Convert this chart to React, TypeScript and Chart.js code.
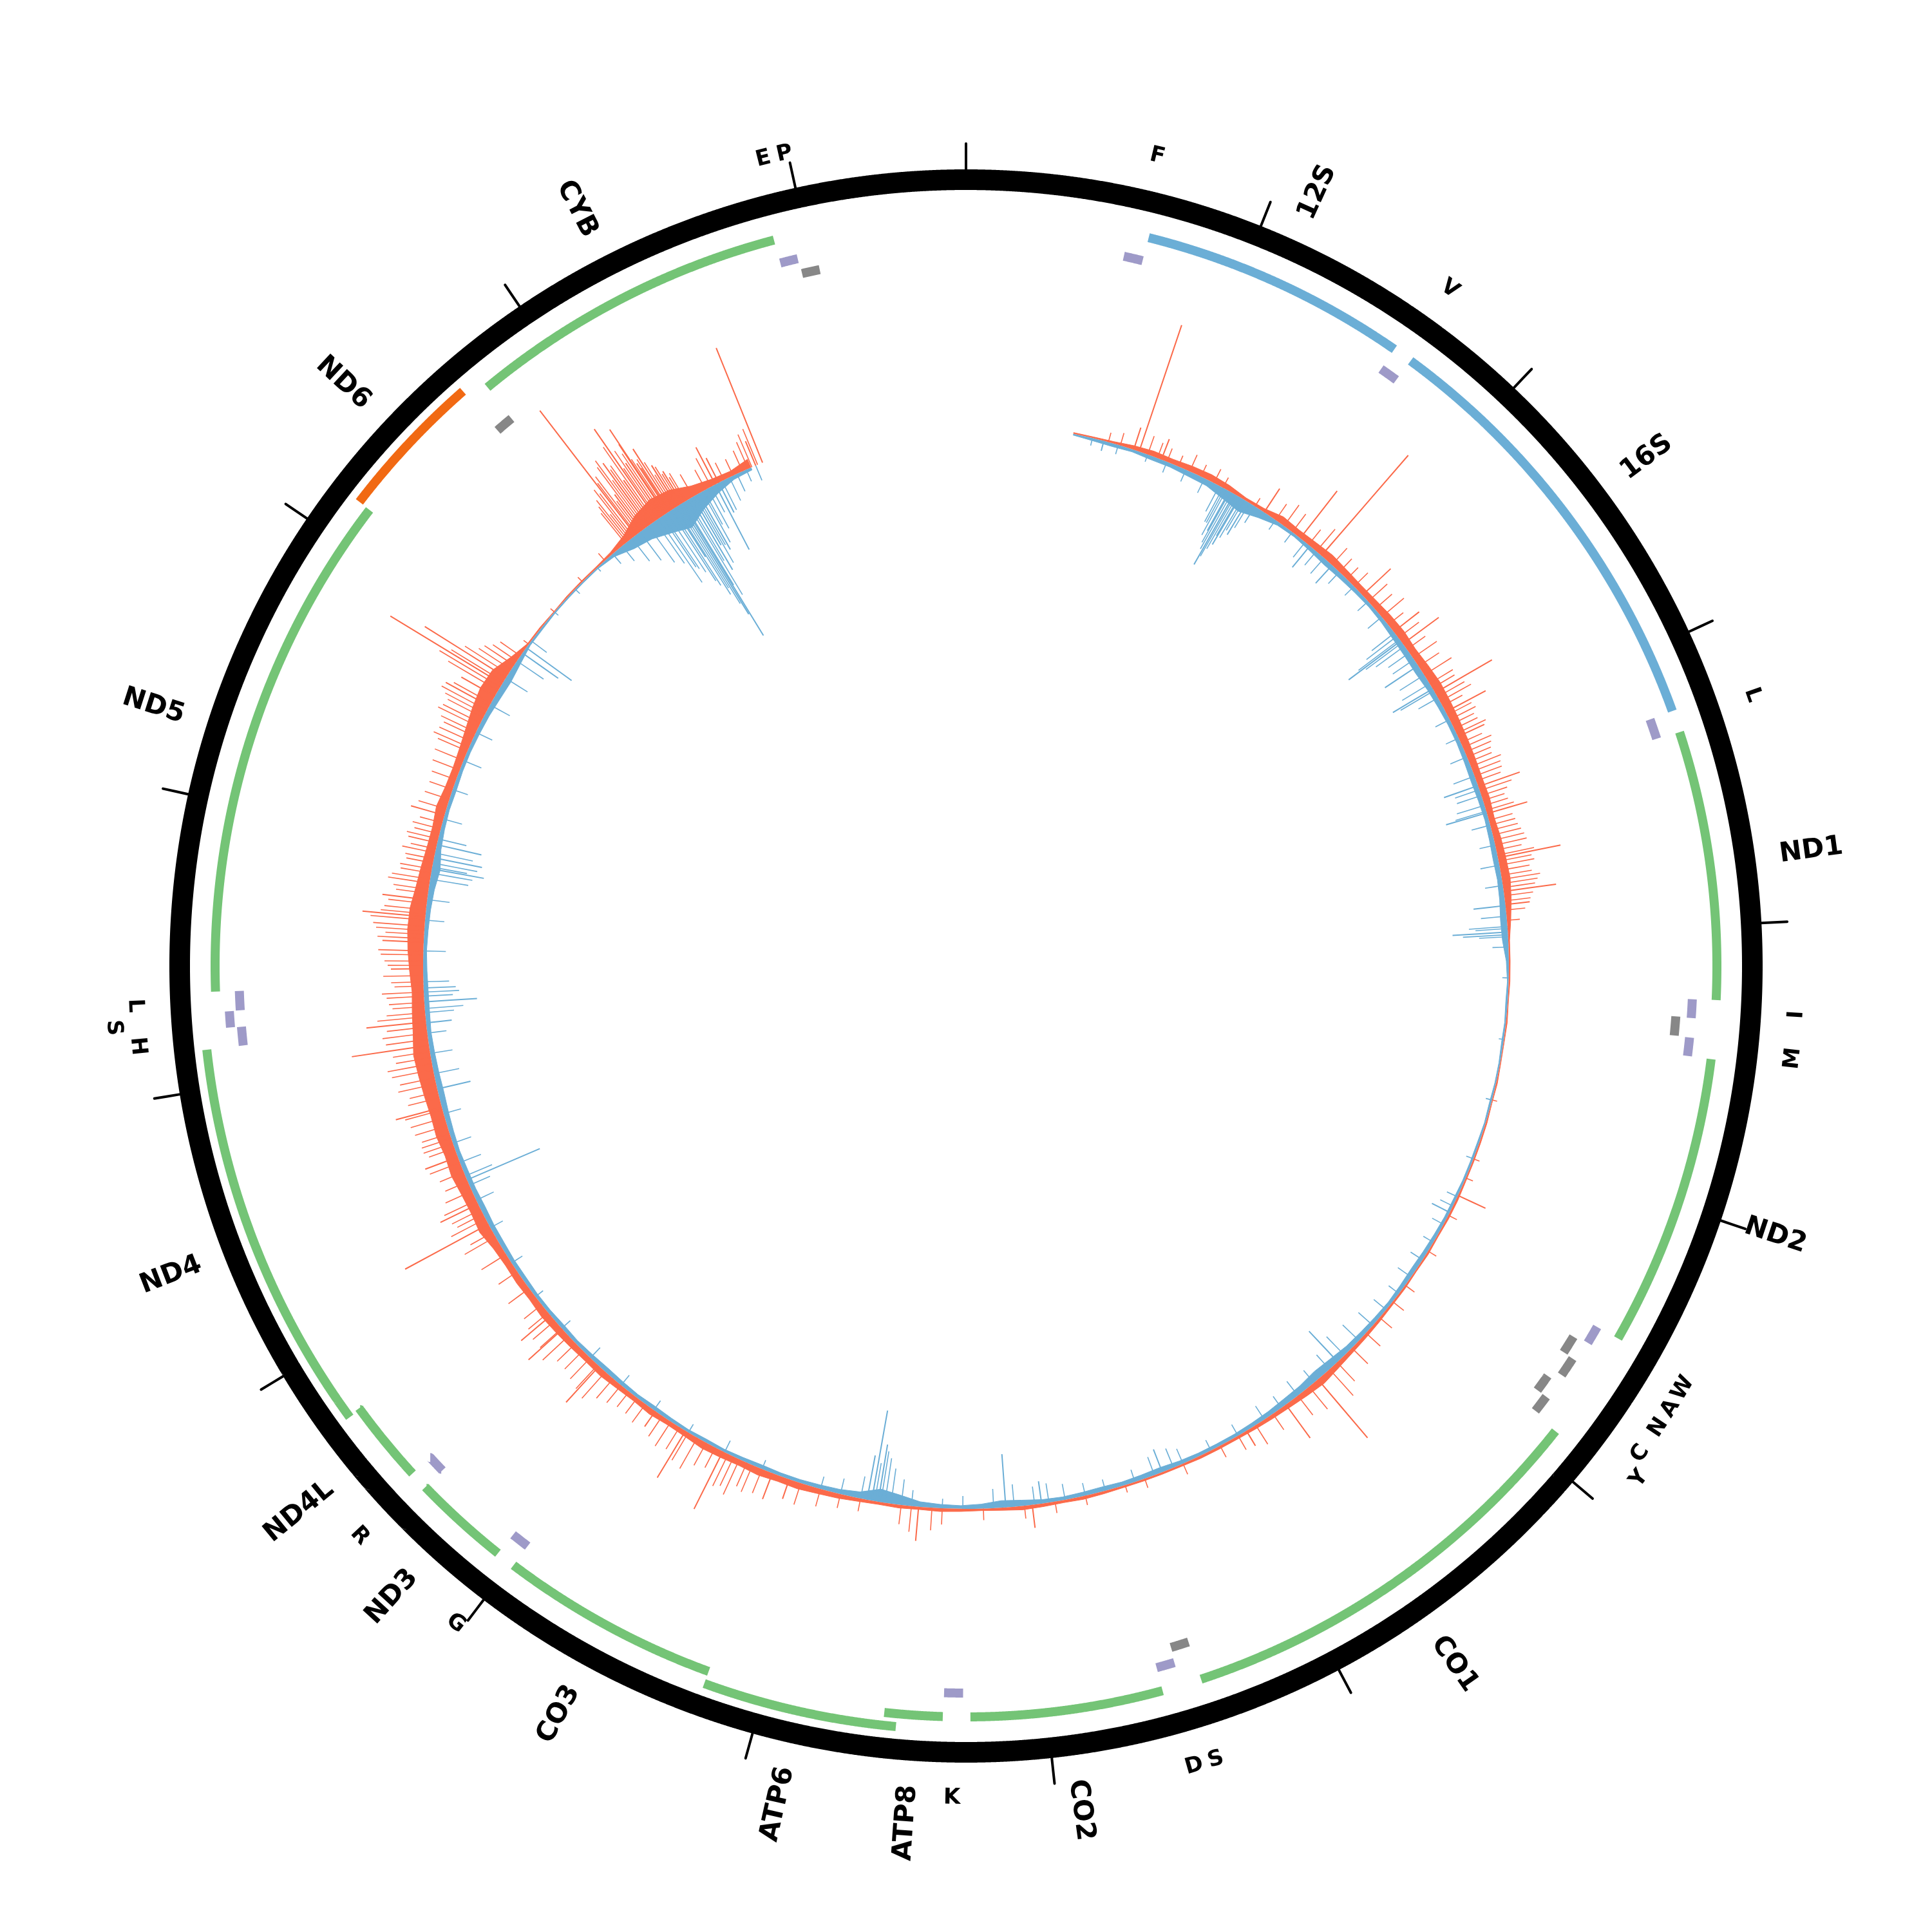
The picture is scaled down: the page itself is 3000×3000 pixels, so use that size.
import React, { useEffect, useRef } from 'react';
import { Chart, registerables } from 'chart.js';

Chart.register(...registerables);

// ---------------- data ----------------
const GENOME_LENGTH = 16569;
const TICK_POSITIONS = [0, 1000, 2000, 3000, 4000, 5000, 6000, 7000, 8000, 9000, 10000, 11000, 12000, 13000, 14000, 15000, 16000];

const GENE_NAMES = ['12S', '16S', 'ND1', 'ND2', 'CO1', 'CO2', 'ATP8', 'ATP6', 'CO3', 'ND3', 'ND4L', 'ND4', 'ND5', 'ND6', 'CYB'];
const GENE_START = [648, 1671, 3307, 4470, 5904, 7586, 8366, 8527, 9207, 10059, 10470, 10760, 12337, 14149, 14747];
const GENE_END = [1601, 3229, 4262, 5511, 7445, 8269, 8572, 9207, 9990, 10404, 10766, 12137, 14148, 14673, 15887];
const GENE_KIND = ['rRNA', 'rRNA', 'cds', 'cds', 'cds', 'cds', 'cds', 'cds', 'cds', 'cds', 'cds', 'cds', 'cds', 'cdsMinus', 'cds'];
const GENE_LEVEL = [0, 0, 0, 0, 0, 0, 0, 1, 0, 0, 0, 1, 0, 1, 0];

const TRNA_LABELS = ['F', 'V', 'L', 'I', '', 'M', 'W', 'A', 'N', 'C', 'Y', 'S', 'D', 'K', 'G', 'R', 'H', 'S', 'L', '', 'E', 'P'];
const TRNA_START = [577, 1602, 3230, 4263, 4329, 4402, 5512, 5587, 5657, 5761, 5826, 7446, 7518, 8295, 9991, 10405, 12138, 12207, 12266, 14674, 15888, 15956];
const TRNA_END = [647, 1670, 3304, 4331, 4400, 4469, 5579, 5655, 5729, 5826, 5891, 7514, 7585, 8364, 10058, 10469, 12206, 12265, 12336, 14742, 15953, 16023];
const TRNA_STRAND = [1, 1, 1, 1, -1, 1, 1, -1, -1, -1, -1, -1, 1, 1, 1, 1, 1, 1, 1, -1, 1, -1];
const TRNA_LEVEL = [0, 0, 0, 0, 0, 0, 0, 0, 1, 0, 1, 0, 0, 0, 0, 0, 0, 1, 0, 0, 0, 0];
const TRNA_LABEL_LIFT = [0, 0, 0, 0, 0, 0, 0, 0, 0, 0, 22, 0, 0, 0, 0, 0, 0, 35, 0, 0, 0, 0];

// coverage core: genome split into 166 equal bins; values from bin 5 onwards
const COV_BINS = 166;
const COV_FIRST_BIN = 5;
const FWD_COV = [2,
  2, 3, 6, 8, 7, 9, 10, 8, 4, 5,
  11, 9, 10, 12, 10, 9, 10, 12, 13, 11, 13, 15, 14, 13, 12, 11, 10, 11, 9, 11, 12, 13, 10, 6,
  2, 2,
  2, 1, 2, 1, 1, 2, 1, 2, 2, 2, 2, 3, 3,
  2, 3, 2, 3, 3, 4, 5, 6, 8, 11, 9, 7, 6, 5, 4, 4, 4, 3, 3, 3, 3, 4, 5, 4,
  5, 6, 4, 3, 4, 5, 4, 5, 4, 5, 7, 8, 10, 9, 11, 9, 10, 11, 8, 7,
  9, 7, 8, 10, 9, 10, 11, 12, 10, 11, 10, 12, 18, 16, 17, 20, 18, 21, 20, 22,
  24, 26, 22, 20, 18, 21, 24, 26, 25, 20, 17, 14, 13, 16, 12, 11, 13, 17, 22, 26,
  24, 11, 2, 2, 1, 2, 2, 2, 4, 11, 25, 32, 28, 16, 10, 8, 14];
const REV_COV = [2,
  4, 5, 4, 6, 6, 8, 9, 15, 20, 12,
  5, 4, 6, 8, 7, 6, 5, 6, 8, 9, 10, 8, 7, 6, 6, 7, 8, 7, 6, 7, 8, 7, 8, 10,
  9, 4,
  2, 3, 2, 3, 2, 2, 3, 2, 3, 3, 3, 4, 4,
  5, 6, 7, 6, 5, 6, 7, 8, 11, 13, 10, 9, 7, 6, 5, 5, 5, 6, 8, 7, 6, 7, 6, 5,
  6, 9, 11, 7, 5, 6, 8, 15, 20, 10, 7, 6, 5, 5, 6, 5, 4, 5, 4, 5,
  6, 5, 6, 7, 6, 5, 6, 5, 5, 6, 6, 7, 7, 8, 7, 7, 6, 7, 8, 9,
  8, 7, 6, 7, 7, 6, 5, 6, 7, 9, 13, 8, 6, 5, 6, 5, 5, 6, 7, 9,
  10, 7, 3, 3, 2, 2, 2, 2, 5, 15, 20, 30, 40, 25, 14, 6, 4];

// tall isolated spikes (position bp, height)
const FWD_SPIKE_POS = [828, 856, 971, 1533, 1749, 1882, 2159, 2393, 2467, 2752, 2858, 2992, 3254, 3392, 3613, 3779, 3843, 5293, 6425, 6623, 6853, 7962, 8515, 9159, 9246, 9509, 9716, 9891, 10241, 10494, 10581, 11120, 11230, 11479, 11732, 12040, 12155, 12413, 12542, 12666, 12749, 13168, 13743, 13798, 13867, 13904, 14843, 14880, 14920, 14950, 14972, 15000, 15023, 15040, 15060, 15090, 15119, 15303, 15322, 15520, 15556];
const FWD_SPIKE_H = [36, 207, 34, 44, 93, 206, 60, 50, 69, 102, 70, 45, 68, 65, 99, 82, 38, 47, 119, 64, 27, 36, 53, 32, 43, 100, 85, 29, 76, 71, 60, 147, 65, 54, 74, 121, 93, 50, 64, 98, 70, 54, 77, 60, 203, 149, 244, 70, 120, 80, 171, 100, 157, 90, 112, 75, 58, 65, 43, 41, 192];
const REV_SPIKE_POS = [677, 1335, 1362, 1395, 1436, 1809, 1952, 2449, 2596, 2729, 3249, 3388, 3848, 3977, 5385, 6296, 7309, 7916, 8091, 8713, 8745, 8768, 11359, 11824, 12150, 12252, 12901, 12956, 13021, 14047, 14079, 15074, 15110, 15119, 15165, 15179, 15211, 15303, 15322];
const REV_SPIKE_H = [16, 70, 126, 85, 60, 43, 38, 101, 62, 72, 56, 66, 50, 86, 31, 65, 38, 35, 83, 90, 142, 70, 123, 53, 40, 82, 82, 76, 71, 68, 87, 90, 201, 241, 129, 87, 100, 114, 52];

// shorter hairs (position bp, height)
const FWD_HAIR_POS = [700, 760, 900, 950, 1000, 1060, 1120, 1180, 1250, 1300, 1480, 1600, 1650, 1700, 1800, 1850, 1950, 2000, 2050, 2100, 2200, 2250, 2300, 2350, 2430, 2500, 2550, 2600, 2650, 2700, 2800, 2900, 2950, 3050, 3100, 3150, 3200, 3300, 3350, 3450, 3500, 3550, 3650, 3700, 3720, 3800, 3870, 3920, 4800, 5100, 5200, 5400, 5600, 5800, 5900, 6000, 6100, 6200, 6300, 6350, 6480, 6550, 6700, 6800, 6900, 7000, 7200, 7400, 7500, 7700, 7850, 8000, 8200, 8400, 8450, 8550, 8600, 8800, 8900, 9000, 9100, 9300, 9350, 9420, 9450, 9600, 9650, 9800, 9950, 10050, 10150, 10200, 10300, 10400, 10450, 10550, 10650, 10750, 10850, 10950, 11050, 11150, 11200, 11300, 11400, 11550, 11600, 11680, 11780, 11850, 11920, 11980, 12100, 12200, 12250, 12300, 12350, 12450, 12500, 12600, 12620, 12700, 12800, 12850, 12900, 12950, 13000, 13050, 13100, 13250, 13300, 13400, 13500, 13550, 13600, 13650, 13700, 13830, 13950, 14000, 14100, 14300, 14500, 14650, 14780, 14800, 14820, 14860, 14900, 14930, 14960, 14990, 15010, 15030, 15050, 15070, 15100, 15140, 15180, 15250, 15280, 15350, 15400, 15450, 15480, 15500, 15530];
const FWD_HAIR_H = [15, 20, 30, 25, 22, 18, 28, 20, 24, 18, 15, 30, 40, 35, 30, 45, 35, 28, 25, 30, 40, 35, 45, 30, 40, 35, 45, 38, 50, 42, 55, 45, 40, 48, 40, 50, 45, 42, 38, 40, 45, 50, 55, 48, 60, 45, 30, 20, 8, 10, 12, 15, 15, 18, 22, 25, 30, 35, 40, 55, 45, 38, 30, 35, 25, 20, 18, 15, 12, 15, 18, 20, 18, 25, 35, 40, 30, 20, 22, 28, 35, 40, 45, 60, 50, 40, 55, 45, 35, 30, 40, 55, 45, 40, 55, 45, 35, 40, 35, 45, 55, 60, 50, 45, 40, 48, 45, 55, 50, 60, 65, 55, 70, 60, 55, 65, 50, 60, 70, 75, 80, 65, 55, 60, 50, 45, 40, 50, 45, 40, 38, 45, 50, 55, 60, 65, 70, 90, 60, 45, 10, 8, 10, 15, 60, 80, 95, 110, 130, 105, 140, 125, 115, 100, 95, 85, 70, 50, 40, 35, 50, 30, 28, 35, 45, 55, 60];
const REV_HAIR_POS = [620, 750, 900, 1000, 1100, 1200, 1280, 1300, 1320, 1350, 1380, 1410, 1450, 1480, 1600, 1700, 1780, 1850, 1900, 2000, 2100, 2200, 2300, 2400, 2420, 2480, 2520, 2650, 2700, 2780, 2900, 3000, 3100, 3200, 3300, 3350, 3450, 3550, 3650, 3750, 3900, 3950, 4000, 4050, 4200, 4500, 4800, 5100, 5300, 5350, 5450, 5550, 5650, 5750, 5850, 5950, 6050, 6150, 6250, 6350, 6450, 6550, 6650, 6750, 6900, 7050, 7200, 7250, 7350, 7450, 7600, 7700, 7800, 7880, 7950, 8050, 8150, 8300, 8400, 8550, 8600, 8650, 8680, 8700, 8730, 8800, 8900, 9000, 9300, 9500, 9700, 9900, 10100, 10300, 10500, 10700, 10900, 11100, 11250, 11450, 11550, 11700, 11900, 12000, 12100, 12200, 12300, 12350, 12500, 12650, 12750, 12850, 12930, 13050, 13150, 13300, 13450, 13600, 13750, 13900, 14000, 14120, 14300, 14450, 14600, 14700, 14760, 14820, 14870, 14920, 14960, 15000, 15030, 15050, 15090, 15140, 15190, 15230, 15260, 15340, 15380, 15420, 15470, 15520];
const REV_HAIR_H = [12, 15, 12, 18, 20, 25, 45, 60, 80, 100, 95, 70, 45, 30, 18, 20, 30, 28, 32, 25, 20, 22, 28, 45, 60, 55, 40, 45, 50, 35, 25, 22, 28, 35, 40, 45, 30, 25, 30, 28, 40, 60, 45, 25, 10, 8, 10, 12, 18, 22, 20, 18, 22, 25, 20, 25, 30, 35, 40, 30, 25, 28, 22, 25, 20, 18, 25, 32, 30, 20, 18, 20, 25, 30, 28, 35, 30, 20, 15, 25, 40, 55, 70, 80, 60, 35, 25, 20, 15, 20, 15, 18, 20, 22, 18, 15, 20, 22, 30, 35, 30, 28, 40, 35, 30, 45, 55, 40, 35, 30, 35, 60, 70, 45, 30, 25, 30, 28, 35, 40, 50, 30, 8, 10, 8, 20, 30, 45, 55, 70, 80, 95, 110, 130, 150, 170, 120, 90, 70, 50, 40, 30, 20, 25];

// extra hairs in the densest stretches (position bp, height)
const FWD_DENSE_POS = [2725, 2775, 2825, 2875, 2925, 2975, 3025, 3075, 3125, 3175, 3225, 3275, 3325, 3375, 3425, 3475, 3525, 3575, 3600, 3630, 3675, 3740, 3760, 3825, 9380, 9480, 9550, 9700, 9750, 9850, 10000, 10100, 10250, 10350, 10500, 10600, 11075, 11175, 11250, 11350, 11450, 11525, 11575, 11640, 11720, 11810, 11880, 11950, 12010, 12070, 12130, 12180, 12230, 12280, 12330, 12380, 12430, 12480, 12560, 12580, 12650, 12680, 12730, 12780, 12830, 12880, 12930, 12980, 13030, 13075, 13130, 13200, 13350, 13450, 13520, 13580, 13630, 13680, 13720, 13760, 13850, 13880, 13925, 13975, 14030, 14790, 14810, 14830, 14850, 14870, 14890, 14910, 14940, 14980, 15020, 15045, 15080, 15110, 15130];
const FWD_DENSE_H = [40, 48, 35, 42, 38, 50, 36, 44, 38, 46, 40, 52, 35, 45, 38, 42, 48, 40, 58, 52, 46, 55, 50, 40, 40, 55, 35, 50, 40, 38, 30, 35, 50, 40, 45, 40, 40, 45, 55, 38, 50, 42, 48, 52, 60, 45, 55, 70, 58, 66, 62, 75, 50, 58, 45, 62, 55, 66, 72, 60, 85, 70, 60, 50, 65, 48, 42, 52, 46, 40, 36, 45, 40, 48, 60, 52, 70, 62, 80, 66, 110, 95, 80, 55, 38, 70, 50, 85, 100, 60, 120, 90, 110, 95, 130, 80, 60, 55, 45];
const REV_DENSE_POS = [1310, 1340, 1370, 1390, 1420, 2440, 2460, 2560, 2740, 3270, 3380, 3960, 3990, 11330, 11380, 12220, 12280, 12320, 12880, 12910, 12980, 14980, 15010, 15060, 15080, 15100, 15125, 15150, 15200, 15240, 15280];
const REV_DENSE_H = [60, 90, 110, 70, 55, 80, 70, 40, 60, 40, 50, 50, 70, 35, 45, 60, 45, 50, 65, 55, 60, 120, 100, 140, 160, 180, 150, 110, 90, 60, 45];

// ---------------- styling ----------------
const SIZE = 3000;
const HALF = 1500;
const R_RING = 1221;
const RING_W = 32;
const R_TICK_IN = 1236;
const R_TICK_OUT = 1277;
const R_GENE = 1166;
const GENE_STEP = 20;
const GENE_W = 14;
const R_TRNA_PLUS = 1129;
const R_TRNA_MINUS = 1105;
const TRNA_STEP = 17;
const TRNA_W = 14;
const R_COV = 843;
const R_GENE_LABEL = 1275;
const R_TRNA_LABEL = 1292;
const GENE_FONT = 'bold 42px "DejaVu Sans"';
const TRNA_FONT = 'bold 34px "DejaVu Sans"';

const COLORS: Record<string, string> = {
  rRNA: '#6baed6',
  cds: '#74c476',
  cdsMinus: '#f16913',
  trnaPlus: '#9e9ac8',
  trnaMinus: '#878787',
  fwd: '#fb6a4a',
  rev: '#6baed6',
};

type P = { x: number; y: number };
const GAP: P = { x: NaN, y: NaN };

function polar(pos: number, r: number): P {
  const a = (pos / GENOME_LENGTH) * 2 * Math.PI;
  return { x: r * Math.sin(a), y: r * Math.cos(a) };
}

function arcPts(start: number, end: number, r: number): P[] {
  const n = Math.max(2, Math.ceil((end - start) / 6));
  const pts: P[] = [];
  for (let i = 0; i <= n; i++) pts.push(polar(start + ((end - start) * i) / n, r));
  return pts;
}

function lineDs(data: P[], color: string, width: number, cap = 'butt') {
  return {
    data,
    showLine: true,
    borderColor: color,
    backgroundColor: color,
    borderWidth: width,
    borderCapStyle: cap,
    borderJoinStyle: 'round',
    pointRadius: 0,
    pointHoverRadius: 0,
    fill: false,
    // a tiny tension avoids the x-monotonic fast path, which breaks circular lines
    tension: 0.0001,
    spanGaps: false,
  };
}

function spikes(pos: number[], h: number[], sign: number): P[] {
  const pts: P[] = [];
  pos.forEach((p, i) => {
    pts.push(polar(p, R_COV), polar(p, R_COV + sign * h[i]), GAP);
  });
  return pts;
}

function buildMainConfig() {
  const datasets: any[] = [];

  // coverage spikes and hairs
  datasets.push(lineDs(spikes(FWD_SPIKE_POS, FWD_SPIKE_H, 1), COLORS.fwd, 2));
  datasets.push(lineDs(spikes(REV_SPIKE_POS, REV_SPIKE_H, -1), COLORS.rev, 2));
  datasets.push(lineDs(spikes(FWD_HAIR_POS, FWD_HAIR_H, 1), COLORS.fwd, 1.6));
  datasets.push(lineDs(spikes(REV_HAIR_POS, REV_HAIR_H, -1), COLORS.rev, 1.6));
  datasets.push(lineDs(spikes(FWD_DENSE_POS, FWD_DENSE_H, 1), COLORS.fwd, 1.6));
  datasets.push(lineDs(spikes(REV_DENSE_POS, REV_DENSE_H, -1), COLORS.rev, 1.6));

  // genes
  ['rRNA', 'cds', 'cdsMinus'].forEach((kind) => {
    const pts: P[] = [];
    GENE_NAMES.forEach((_, i) => {
      if (GENE_KIND[i] !== kind) return;
      pts.push(...arcPts(GENE_START[i], GENE_END[i], R_GENE + GENE_LEVEL[i] * GENE_STEP), GAP);
    });
    datasets.push(lineDs(pts, COLORS[kind], GENE_W));
  });

  // tRNAs
  [1, -1].forEach((strand) => {
    const pts: P[] = [];
    TRNA_START.forEach((s, i) => {
      if (TRNA_STRAND[i] !== strand) return;
      const base = strand === 1 ? R_TRNA_PLUS : R_TRNA_MINUS;
      pts.push(...arcPts(s, TRNA_END[i], base + TRNA_LEVEL[i] * TRNA_STEP), GAP);
    });
    datasets.push(lineDs(pts, strand === 1 ? COLORS.trnaPlus : COLORS.trnaMinus, TRNA_W));
  });

  // ticks
  const ticks: P[] = [];
  TICK_POSITIONS.forEach((t) => ticks.push(polar(t, R_TICK_IN), polar(t, R_TICK_OUT), GAP));
  datasets.push(lineDs(ticks, '#000000', 4, 'round'));

  // genome ring
  datasets.push(lineDs(arcPts(-40, GENOME_LENGTH + 40, R_RING), '#000000', RING_W));

  const labelPlugin = {
    id: 'mitoLabels',
    afterDatasetsDraw(chart: any) {
      const ctx = chart.ctx as CanvasRenderingContext2D;
      const xs = chart.scales.x;
      const ys = chart.scales.y;
      const px = (p: P) => ({ x: xs.getPixelForValue(p.x), y: ys.getPixelForValue(p.y) });
      ctx.save();
      ctx.fillStyle = '#000000';
      ctx.textBaseline = 'middle';
      ctx.font = GENE_FONT;
      GENE_NAMES.forEach((name, i) => {
        const mid = (GENE_START[i] + GENE_END[i]) / 2;
        const deg = (mid / GENOME_LENGTH) * 360;
        const p = px(polar(mid, R_GENE_LABEL));
        ctx.save();
        ctx.translate(p.x, p.y);
        if (deg < 180) {
          ctx.rotate(((deg - 90) * Math.PI) / 180);
          ctx.textAlign = 'left';
        } else {
          ctx.rotate(((deg + 90) * Math.PI) / 180);
          ctx.textAlign = 'right';
        }
        ctx.fillText(name, 0, 0);
        ctx.restore();
      });
      ctx.font = TRNA_FONT;
      ctx.textAlign = 'center';
      TRNA_LABELS.forEach((lab, i) => {
        if (!lab) return;
        const mid = (TRNA_START[i] + TRNA_END[i]) / 2;
        const deg = (mid / GENOME_LENGTH) * 360;
        const p = px(polar(mid, R_TRNA_LABEL + TRNA_LABEL_LIFT[i]));
        ctx.save();
        ctx.translate(p.x, p.y);
        const rot = deg > 90 && deg < 270 ? deg - 180 : deg;
        ctx.rotate((rot * Math.PI) / 180);
        ctx.fillText(lab, 0, 0);
        ctx.restore();
      });
      ctx.restore();
    },
  };

  return {
    type: 'scatter',
    data: { datasets },
    options: {
      animation: false,
      responsive: false,
      devicePixelRatio: 1,
      events: [],
      layout: { padding: 0 },
      plugins: { legend: { display: false }, tooltip: { enabled: false } },
      scales: {
        x: { type: 'linear', min: -HALF, max: HALF, display: false },
        y: { type: 'linear', min: -HALF, max: HALF, display: false },
      },
    },
    plugins: [labelPlugin],
  };
}

function buildCoverageConfig() {
  const labels = Array.from({ length: COV_BINS }, (_, j) => String(j));
  const fwdData: (number | null)[] = labels.map(() => null);
  const revData: (number | null)[] = labels.map(() => null);
  FWD_COV.forEach((v, k) => { fwdData[COV_FIRST_BIN + k] = R_COV + v; });
  REV_COV.forEach((v, k) => { revData[COV_FIRST_BIN + k] = R_COV - v; });
  const ds = (data: (number | null)[], color: string) => ({
    data,
    fill: { value: R_COV },
    backgroundColor: color,
    borderColor: color,
    borderWidth: 1,
    pointRadius: 0,
    pointHoverRadius: 0,
    spanGaps: false,
    tension: 0,
  });
  return {
    type: 'radar',
    data: { labels, datasets: [ds(fwdData, COLORS.fwd), ds(revData, COLORS.rev)] },
    options: {
      animation: false,
      responsive: false,
      devicePixelRatio: 1,
      events: [],
      layout: { padding: 0 },
      plugins: { legend: { display: false }, tooltip: { enabled: false } },
      scales: {
        r: {
          min: 0,
          max: HALF,
          startAngle: 0.55,
          display: false,
          grid: { circular: true, display: false },
          angleLines: { display: false },
          ticks: { display: false },
          pointLabels: { display: false },
        },
      },
    },
  };
}

export default function App() {
  const covRef = useRef<HTMLCanvasElement | null>(null);
  const mainRef = useRef<HTMLCanvasElement | null>(null);

  useEffect(() => {
    document.body.style.margin = '0';
    const c1 = new Chart(covRef.current as HTMLCanvasElement, buildCoverageConfig() as any);
    const c2 = new Chart(mainRef.current as HTMLCanvasElement, buildMainConfig() as any);
    return () => {
      c1.destroy();
      c2.destroy();
    };
  }, []);

  return (
    <div style={{ position: 'relative', width: SIZE, height: SIZE, background: '#ffffff' }}>
      <canvas ref={covRef} width={SIZE} height={SIZE} style={{ position: 'absolute', left: 0, top: 0 }} />
      <canvas ref={mainRef} width={SIZE} height={SIZE} style={{ position: 'absolute', left: 0, top: 0 }} />
    </div>
  );
}
